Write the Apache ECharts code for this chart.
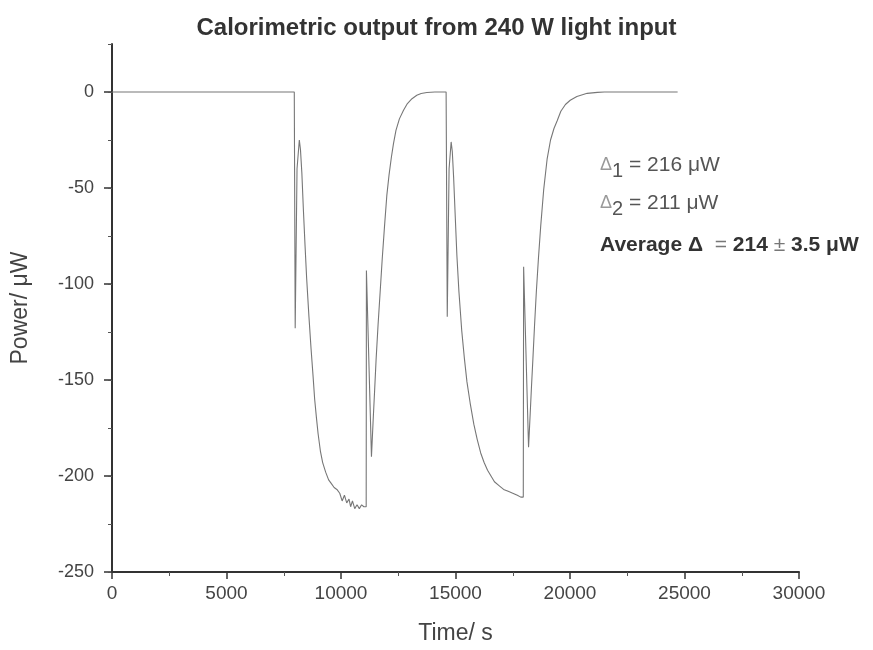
<!DOCTYPE html>
<html>
<head>
<meta charset="utf-8">
<script src="https://cdn.jsdelivr.net/npm/echarts@6/dist/echarts.min.js"></script>
<style>
  html, body { margin: 0; padding: 0; background: #fff; }
  #chart { width: 873px; height: 650px; }
</style>
</head>
<body>
<div id="chart"></div>
<script>
// time (s) and power (uW)
const times = [
  0, 2500, 5000, 7960,
  8000, 8080, 8180, 8230, 8290, 8360, 8430, 8500, 8600, 8694, 8780, 8850, 8930, 9000,
  9100, 9200, 9330, 9460, 9580, 9700, 9820, 9945,
  10050, 10150, 10250, 10350, 10420, 10500, 10600, 10700, 10800, 10900, 11000, 11100,
  11110, 11330, 11400, 11470, 11534, 11620, 11710, 11800, 11900, 12000, 12100, 12200,
  12290, 12400, 12550, 12730, 12900, 13100, 13310, 13500, 13750, 14100, 14590,
  14640, 14720, 14810, 14860, 14920, 15000, 15060, 15150, 15270, 15390, 15500, 15640,
  15800, 15950, 16100, 16250, 16400, 16550, 16700, 16900, 17100, 17300, 17500, 17700,
  17850, 17900, 17960,
  17975, 18190, 18260, 18320, 18380, 18450, 18530, 18620, 18720, 18850, 19000, 19150,
  19300, 19440, 19600, 19800, 20010, 20300, 20750, 21200, 21500, 24700
];
const power = [
  0, 0, 0, 0,
  -123, -40, -25, -30, -42, -62, -80, -97, -117, -134, -148, -160, -170, -178,
  -187, -193, -198, -202, -204, -206, -207, -209,
  -213, -210, -214, -212, -216, -213, -217, -215, -217, -215, -216, -216,
  -93, -190, -172, -155, -139, -121, -104, -87, -70, -54, -43, -34,
  -27, -20, -14, -9.5, -6, -3.5, -1.7, -0.8, -0.3, 0, 0,
  -117, -40, -26, -31, -45, -68, -85, -104, -124, -139, -151, -162,
  -173, -181, -188, -193, -197, -200, -203, -205, -207, -208, -209, -210,
  -211, -212, -211,
  -91, -185, -168, -153, -139, -122, -104, -87, -70, -51, -35, -25,
  -19, -15, -10, -6.5, -4.3, -2.3, -0.7, -0.2, 0, 0
];
const yMajor = [-250, -200, -150, -100, -50, 0];

const chart = echarts.init(document.getElementById('chart'));
const data = times.map((t, i) => [t, power[i]]);
const font = 'Liberation Sans, Arial, sans-serif';

chart.setOption({
  animation: false,
  backgroundColor: '#fff',
  title: {
    text: 'Calorimetric output from 240 W light input',
    left: 'center',
    top: 11,
    textStyle: { fontFamily: font, fontSize: 24, fontWeight: 'bold', color: '#333' }
  },
  grid: { left: 112, right: 74, top: 44, bottom: 75 },
  xAxis: {
    type: 'value',
    min: 0,
    max: 30000,
    interval: 5000,
    name: 'Time/ s',
    nameLocation: 'middle',
    nameGap: 50,
    nameTextStyle: { fontFamily: font, fontSize: 23, color: '#444' },
    axisLine: { onZero: false, lineStyle: { color: '#333', width: 2 } },
    axisTick: { length: 7, lineStyle: { color: '#333', width: 1.5 } },
    minorTick: { show: true, splitNumber: 2, length: 4, lineStyle: { color: '#555' } },
    axisLabel: {
      margin: 12, fontFamily: font, fontSize: 19, color: '#444',
      formatter: v => String(v)
    },
    splitLine: { show: false }
  },
  yAxis: [{
    type: 'value',
    min: -250,
    max: 25,
    interval: 25,
    name: 'Power/ \u03bcW',
    nameLocation: 'middle',
    nameGap: 80,
    nameTextStyle: { fontFamily: font, fontSize: 23, color: '#444' },
    axisLine: { onZero: false, lineStyle: { color: '#333', width: 2 } },
    axisTick: { length: 8, customValues: yMajor, lineStyle: { color: '#333', width: 1.5 } },
    axisLabel: { margin: 18, customValues: yMajor, fontFamily: font, fontSize: 18, color: '#444' },
    splitLine: { show: false }
  }, {
    type: 'value',
    min: -250,
    max: 25,
    interval: 25,
    position: 'left',
    axisLine: { show: false },
    axisTick: { length: 4, lineStyle: { color: '#555' } },
    axisLabel: { show: false },
    splitLine: { show: false }
  }],
  graphic: [{
    type: 'text',
    left: 600,
    top: 155,
    style: {
      text: '{d|\u0394}{s|1} = 216 \u03bcW',
      font: '21px ' + font,
      fill: '#555',
      rich: {
        d: { fontSize: 18, fill: '#999', fontFamily: font },
        s: { fontSize: 20, fontFamily: font, fill: '#555', padding: [12, 0, 0, 0] }
      }
    }
  }, {
    type: 'text',
    left: 600,
    top: 193,
    style: {
      text: '{d|\u0394}{s|2} = 211 \u03bcW',
      font: '21px ' + font,
      fill: '#555',
      rich: {
        d: { fontSize: 18, fill: '#999', fontFamily: font },
        s: { fontSize: 20, fontFamily: font, fill: '#555', padding: [12, 0, 0, 0] }
      }
    }
  }, {
    type: 'text',
    left: 600,
    top: 235,
    style: {
      text: '{b|Average \u0394}  {n|=} {b|214} {n|\u00b1} {b|3.5 \u03bcW}',
      font: 'bold 21px ' + font,
      fill: '#333',
      rich: {
        b: { fontSize: 21, fontWeight: 'bold', fontFamily: font, fill: '#333' },
        n: { fontSize: 21, fontWeight: 'normal', fontFamily: font, fill: '#777' }
      }
    }
  }],
  series: [{
    type: 'line',
    data: data,
    xAxisIndex: 0,
    yAxisIndex: 0,
    showSymbol: false,
    smooth: false,
    lineStyle: { color: '#777', width: 1.1 },
    z: 3
  }]
});
</script>
</body>
</html>
